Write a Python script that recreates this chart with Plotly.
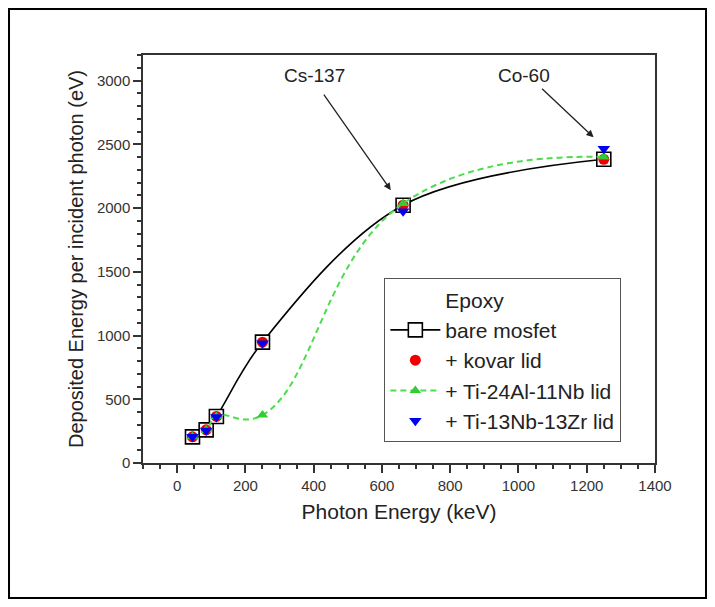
import plotly.graph_objects as go

# photon energies (keV)
energy = [45, 85, 115, 250, 662, 1250]

# deposited energy per incident photon (eV), epoxy package
bare_mosfet = [205, 260, 365, 948, 2022, 2382]
kovar_lid = [205, 260, 365, 948, 2022, 2382]
ti24al11nb_lid = [205, 260, 365, 376, 2035, 2400]
ti13nb13zr_lid = [205, 255, 360, 940, 1975, 2465]

x_ticks = [0, 200, 400, 600, 800, 1000, 1200, 1400]
y_ticks = [0, 500, 1000, 1500, 2000, 2500, 3000]

FONT = "Liberation Sans, Arial, sans-serif"
TXT = "#222222"
AX = "#333333"

fig = go.Figure()

# dummy entry so "Epoxy" lines up with the legend texts
fig.add_trace(go.Scatter(
    x=[None], y=[None], mode="markers", name="Epoxy",
    marker=dict(color="rgba(0,0,0,0)", size=1), legendgroup="g0",
    hoverinfo="skip"))

fig.add_trace(go.Scatter(
    x=energy, y=bare_mosfet, mode="lines+markers", name="bare mosfet",
    line=dict(color="black", width=1.6, shape="spline", smoothing=1.0),
    marker=dict(symbol="square", size=14, color="white",
                line=dict(color="black", width=1.6)),
    legendgroup="g1"))

fig.add_trace(go.Scatter(
    x=energy, y=kovar_lid, mode="markers", name="+ kovar lid",
    marker=dict(symbol="circle", size=11, color="#ee0000"),
    legendgroup="g2"))

fig.add_trace(go.Scatter(
    x=energy, y=ti24al11nb_lid, mode="lines+markers", name="+ Ti-24Al-11Nb lid",
    line=dict(color="#4cdc4c", width=2, dash="6px,4px", shape="spline", smoothing=1.3),
    marker=dict(symbol="triangle-up", size=10, color="#33cc33"),
    legendgroup="g3"))

fig.add_trace(go.Scatter(
    x=energy, y=ti13nb13zr_lid, mode="markers", name="+ Ti-13Nb-13Zr lid",
    marker=dict(symbol="triangle-down", size=11, color="#0000ee"),
    legendgroup="g4"))

axis_common = dict(
    showline=True, linecolor=AX, linewidth=1.5, mirror=True,
    ticks="outside", ticklen=8, tickwidth=1.5, tickcolor=AX,
    showgrid=False, zeroline=False, automargin=False,
    tickfont=dict(family=FONT, size=15, color=AX),
)

fig.update_xaxes(
    range=[-100, 1400], tickvals=x_ticks,
    minor=dict(dtick=50, tick0=0, ticklen=4, tickwidth=1.5, tickcolor=AX, ticks="outside"),
    title=dict(text="Photon Energy (keV)", font=dict(family=FONT, size=21, color=TXT), standoff=12),
    **axis_common)

fig.update_yaxes(
    range=[0, 3200], tickvals=y_ticks,
    minor=dict(dtick=100, tick0=0, ticklen=4, tickwidth=1.5, tickcolor=AX, ticks="outside"),
    title=dict(text="Deposited Energy per incident photon (eV)",
               font=dict(family=FONT, size=20, color=TXT), standoff=8),
    **axis_common)

# labels and arrows for the isotope sources
fig.add_annotation(x=403, y=3040, text="Cs-137", showarrow=False,
                   font=dict(family=FONT, size=19, color=TXT))
fig.add_annotation(x=626, y=2140, ax=-68, ay=-97, text="", showarrow=True,
                   arrowhead=2, arrowsize=1.1, arrowwidth=1.3, arrowcolor="#222222")
fig.add_annotation(x=1015, y=3040, text="Co-60", showarrow=False,
                   font=dict(family=FONT, size=19, color=TXT))
fig.add_annotation(x=1220, y=2555, ax=-53, ay=-50, text="", showarrow=True,
                   arrowhead=2, arrowsize=1.1, arrowwidth=1.3, arrowcolor="#222222")

# outer frame around the whole figure
fig.add_shape(type="rect", xref="paper", yref="paper",
              x0=-0.2617, x1=1.0996, y0=-0.331, y1=1.1127,
              line=dict(color="black", width=2))

fig.update_layout(
    width=707, height=599,
    margin=dict(l=135, r=60, t=47, b=144),
    paper_bgcolor="white", plot_bgcolor="white",
    font=dict(family=FONT, color=TXT),
    legend=dict(
        x=0.471, y=0.453, xanchor="left", yanchor="top",
        bgcolor="white", bordercolor="#555555", borderwidth=1.2,
        font=dict(family=FONT, size=21, color=TXT),
        itemwidth=50, tracegroupgap=0,
    ),
)

fig.write_html("out.html")
